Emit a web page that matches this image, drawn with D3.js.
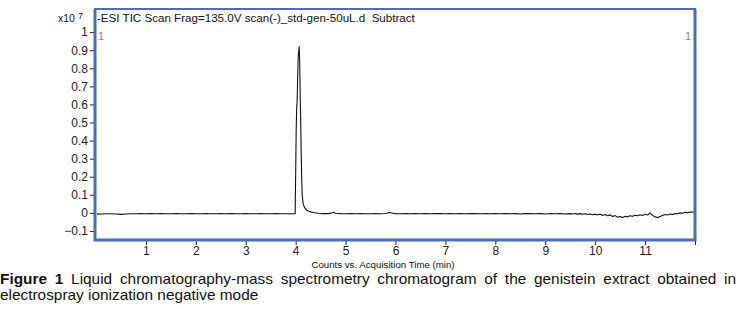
<!DOCTYPE html>
<html>
<head>
<meta charset="utf-8">
<script src="https://cdn.jsdelivr.net/npm/d3@7"></script>
<style>
  html, body {
    margin: 0;
    padding: 0;
    background: #fff;
  }
  svg {
    display: block;
    font-family: 'Liberation Sans', Arial, sans-serif;
  }
</style>
</head>
<body>
<script>
// acquisition time (min)
const times = [
  0.02, 0.1, 0.2, 0.3, 0.4, 0.5, 0.6, 0.7, 0.8, 0.9,
  1.0, 1.1, 1.2, 1.3, 1.4, 1.5, 1.6, 1.7, 1.8, 1.9,
  2.0, 2.1, 2.2, 2.3, 2.4, 2.5, 2.6, 2.7, 2.8, 2.9,
  3.0, 3.1, 3.2, 3.3, 3.4, 3.5, 3.6, 3.7, 3.8, 3.9, 3.99,
  4.0, 4.01, 4.02, 4.03, 4.04, 4.05, 4.06, 4.07, 4.08, 4.09,
  4.1, 4.11, 4.12, 4.13, 4.15, 4.18, 4.22, 4.28, 4.35, 4.45, 4.55,
  4.65, 4.72, 4.76, 4.8, 4.9, 5.0, 5.1, 5.2, 5.3, 5.4, 5.5,
  5.6, 5.7, 5.8, 5.88, 5.95, 6.0, 6.1, 6.2, 6.3, 6.4, 6.5,
  6.6, 6.7, 6.8, 6.9, 7.0, 7.1, 7.2, 7.3, 7.4, 7.5,
  7.6, 7.7, 7.8, 7.9, 8.0, 8.1, 8.2, 8.3, 8.4, 8.5,
  8.6, 8.7, 8.8, 8.9, 9.0, 9.1, 9.2, 9.3, 9.4,
  9.5, 9.55, 9.6, 9.65, 9.7, 9.75, 9.8, 9.85, 9.9, 9.95,
  10.0, 10.05, 10.1, 10.15, 10.2, 10.25, 10.3, 10.35, 10.4, 10.45,
  10.5, 10.55, 10.6, 10.65, 10.7, 10.75, 10.8, 10.85, 10.9, 10.95,
  11.0, 11.05, 11.1, 11.15, 11.2, 11.25, 11.3, 11.35, 11.4, 11.45,
  11.5, 11.55, 11.6, 11.65, 11.7, 11.75, 11.8, 11.85, 11.9, 11.95, 12.0,
];

// counts, x10^7
const counts = [
  -0.007, -0.006, -0.005, -0.005, -0.006, -0.008, -0.006, -0.005, -0.005, -0.004,
  -0.005, -0.004, -0.005, -0.004, -0.005, -0.005, -0.004, -0.005, -0.005, -0.004,
  -0.005, -0.005, -0.004, -0.005, -0.005, -0.004, -0.005, -0.004, -0.005, -0.005,
  -0.004, -0.005, -0.005, -0.004, -0.005, -0.005, -0.004, -0.005, -0.005, -0.005, -0.004,
  0.22, 0.45, 0.58, 0.62, 0.75, 0.86, 0.89, 0.92, 0.85, 0.66,
  0.52, 0.34, 0.2, 0.1, 0.05, 0.028, 0.015, 0.007, 0.002, -0.002, -0.004,
  -0.004, -0.001, 0.004, -0.002, -0.004, -0.005, -0.004, -0.005, -0.004, -0.005, -0.005,
  -0.004, -0.005, -0.003, 0.002, -0.002, -0.004, -0.005, -0.004, -0.005, -0.003, -0.005,
  -0.004, -0.005, -0.004, -0.003, -0.005, -0.004, -0.005, -0.004, -0.005, -0.003,
  -0.004, -0.005, -0.003, -0.005, -0.004, -0.005, -0.003, -0.005, -0.004, -0.006,
  -0.004, -0.003, -0.005, -0.004, -0.006, -0.003, -0.005, -0.004, -0.006,
  -0.004, -0.006, -0.003, -0.007, -0.004, -0.008, -0.005, -0.009, -0.006, -0.01,
  -0.007, -0.012, -0.006, -0.014, -0.009, -0.016, -0.011, -0.02, -0.015, -0.024,
  -0.02, -0.026, -0.019, -0.022, -0.016, -0.019, -0.013, -0.016, -0.01, -0.014,
  -0.008, -0.012, 0.0, -0.014, -0.022, -0.026, -0.02, -0.014, -0.009, -0.012,
  -0.006, -0.009, -0.004, -0.005, 0.0, -0.002, 0.003, 0.001, 0.005, 0.004, 0.007,
];

const xTicks = [1, 2, 3, 4, 5, 6, 7, 8, 9, 10, 11, 12];
const yTicks = [-0.1, 0, 0.1, 0.2, 0.3, 0.4, 0.5, 0.6, 0.7, 0.8, 0.9, 1];

const title = '-ESI TIC Scan Frag=135.0V scan(-)_std-gen-50uL.d  Subtract';
const xLabel = 'Counts vs. Acquisition Time (min)';
const captionBold = 'Figure 1';
const captionLine1 = ' Liquid chromatography-mass spectrometry chromatogram of the genistein extract obtained in';
const captionLine2 = 'electrospray ionization negative mode';

const width = 739;
const height = 309;
const box = { left: 95, top: 9, right: 695, bottom: 240 };
const font = "'Liberation Sans', Arial, sans-serif";
// the source picture is a little wider than tall, so text is stretched
const stretch = 1.1;

const svg = d3
  .select('body')
  .append('svg')
  .attr('width', width)
  .attr('height', height);

const x = d3.scaleLinear().domain([0, 12]).range([96, 695]);
const y = d3.scaleLinear().domain([-0.15, 1.128]).range([box.bottom, box.top]);

// y axis
const yAxis = svg
  .append('g')
  .attr('transform', `translate(${box.left - 1},0)`)
  .call(
    d3.axisLeft(y)
      .tickValues(yTicks)
      .tickSize(4)
      .tickPadding(2)
      .tickFormat((d) => (d === 0 ? '0' : d3.format('')(+d.toFixed(1))))
  );
yAxis.select('.domain').remove();
yAxis.selectAll('line').attr('stroke', '#222');
yAxis.selectAll('text')
  .attr('font-size', 12)
  .attr('fill', '#222')
  .attr('font-family', font);

// x axis
const xAxis = svg
  .append('g')
  .attr('transform', `translate(0,${box.bottom + 1})`)
  .call(
    d3.axisBottom(x)
      .tickValues(xTicks)
      .tickSize(4)
      .tickPadding(1)
      .tickFormat((d) => (d === 12 ? '' : d))
  );
xAxis.select('.domain').remove();
xAxis.selectAll('line').attr('stroke', '#222');
xAxis.selectAll('text')
  .attr('font-size', 12)
  .attr('fill', '#222')
  .attr('font-family', font);

svg.append('text')
  .attr('x', 383)
  .attr('y', 268)
  .attr('text-anchor', 'middle')
  .attr('font-size', 9.7)
  .attr('fill', '#111')
  .text(xLabel);

// x10^7 multiplier
const mult = svg.append('text')
  .attr('x', 58)
  .attr('y', 22)
  .attr('font-size', 10.5)
  .attr('fill', '#111');
mult.append('tspan').text('x10');
mult.append('tspan').attr('dx', 3).attr('dy', -3).attr('font-size', 9).text('7');

// plot frame
svg.append('clipPath')
  .attr('id', 'clip')
  .append('rect')
  .attr('x', box.left + 1)
  .attr('y', box.top + 1)
  .attr('width', box.right - box.left - 2)
  .attr('height', box.bottom - box.top - 2);

svg.append('rect')
  .attr('x', box.left)
  .attr('y', box.top)
  .attr('width', box.right - box.left)
  .attr('height', box.bottom - box.top)
  .attr('fill', '#fff')
  .attr('stroke', '#4a70b4')
  .attr('stroke-width', 2);

svg.append('text')
  .attr('x', 97)
  .attr('y', 22)
  .attr('font-size', 11.6)
  .attr('fill', '#111')
  .style('white-space', 'pre')
  .text(title);

svg.append('text')
  .attr('x', 98)
  .attr('y', 40)
  .attr('font-size', 11)
  .attr('fill', '#888')
  .text('1');

svg.append('text')
  .attr('x', 691)
  .attr('y', 40)
  .attr('text-anchor', 'end')
  .attr('font-size', 11)
  .attr('fill', '#888')
  .text('1');

// trace
const line = d3
  .line()
  .x((d, i) => x(times[i]))
  .y((d) => y(d));

svg.append('path')
  .datum(counts)
  .attr('clip-path', 'url(#clip)')
  .attr('fill', 'none')
  .attr('stroke', '#111')
  .attr('stroke-width', 1.1)
  .attr('stroke-linejoin', 'round')
  .attr('d', line);

// thicker left/bottom/right edges of the frame
svg.append('path')
  .attr('fill', 'none')
  .attr('stroke', '#4a70b4')
  .attr('stroke-width', 3)
  .attr('d', `M${box.left},${box.top}V${box.bottom}H${box.right}V${box.top}`);

// caption, first line justified to the page width
const caption = svg.append('g').attr('transform', `scale(${stretch},1)`);

const cap1 = caption.append('text')
  .attr('x', 0)
  .attr('y', 284)
  .attr('font-size', 14)
  .attr('fill', '#111');
cap1.append('tspan').attr('font-weight', 'bold').text(captionBold);
cap1.append('tspan').text(captionLine1);

const full = cap1.node().getComputedTextLength();
const spaces = (captionBold + captionLine1).split(' ').length - 1;
cap1.attr('word-spacing', Math.max(0, (736 / stretch - full) / spaces));

caption.append('text')
  .attr('x', 0)
  .attr('y', 300)
  .attr('font-size', 14)
  .attr('fill', '#111')
  .text(captionLine2);
</script>
</body>
</html>
